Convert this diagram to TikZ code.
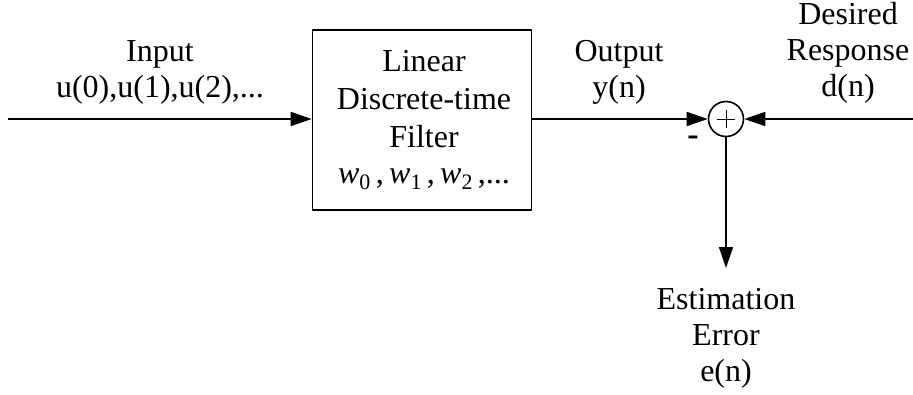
\documentclass[tikz,border=0pt]{standalone}
\usepackage{fontspec}
\setmainfont{Liberation Serif}
\usetikzlibrary{arrows.meta,calc}
\newcommand{\wsub}[1]{{\itshape w}\raisebox{-6pt}{\fontsize{22}{22}\selectfont #1}}
\begin{document}
\begin{tikzpicture}[x=1pt,y=-1pt,
  lbl/.style={align=center,font=\fontsize{32}{36}\selectfont,inner sep=0pt},
  wire/.style={line width=1.6pt,-{Triangle[length=21pt,width=14pt]}},
  plain/.style={line width=1.6pt}]
\useasboundingbox (0,0) rectangle (913,394);
\node[draw,line width=1.6pt,minimum width=219pt,minimum height=180pt,inner sep=0pt] (filt) at (422,120) {};
\node[lbl,font=\fontsize{32}{38}\selectfont] (ftext) at (424,120) {Linear\\Discrete-time\\Filter\\[-2pt]\wsub{0}\,,\,\wsub{1}\,,\,\wsub{2}\,,...};
\node[draw,circle,line width=1.6pt,minimum size=35pt,inner sep=0pt] (sum) at (726,119) {};
\draw[line width=0.8pt] ($(sum)+(-9,0)$) -- ($(sum)+(9,0)$);
\draw[line width=0.8pt] ($(sum)+(0,-9)$) -- ($(sum)+(0,9)$);
\coordinate (in) at (8,119);
\coordinate (dr) at (913,119);
\coordinate (eo) at (726,268);
\node[lbl] (inlbl) at (160,72) {Input\\u(0),u(1),u(2),...};
\node[lbl] (outlbl) at (619,72) {Output\\y(n)};
\node[lbl] (deslbl) at (848,53) {Desired\\Response\\d(n)};
\node[lbl] (errlbl) at (726,338) {Estimation\\Error\\e(n)};
\node[lbl,font=\fontsize{34}{36}\bfseries] (minus) at (693,141) {-};
\draw[wire] (in) -- (filt.west |- in);
\draw[wire] (filt.east |- sum) -- (sum.west);
\draw[wire] (dr) -- (sum.east);
\draw[wire] (sum.south) -- (eo);
\end{tikzpicture}
\end{document}
